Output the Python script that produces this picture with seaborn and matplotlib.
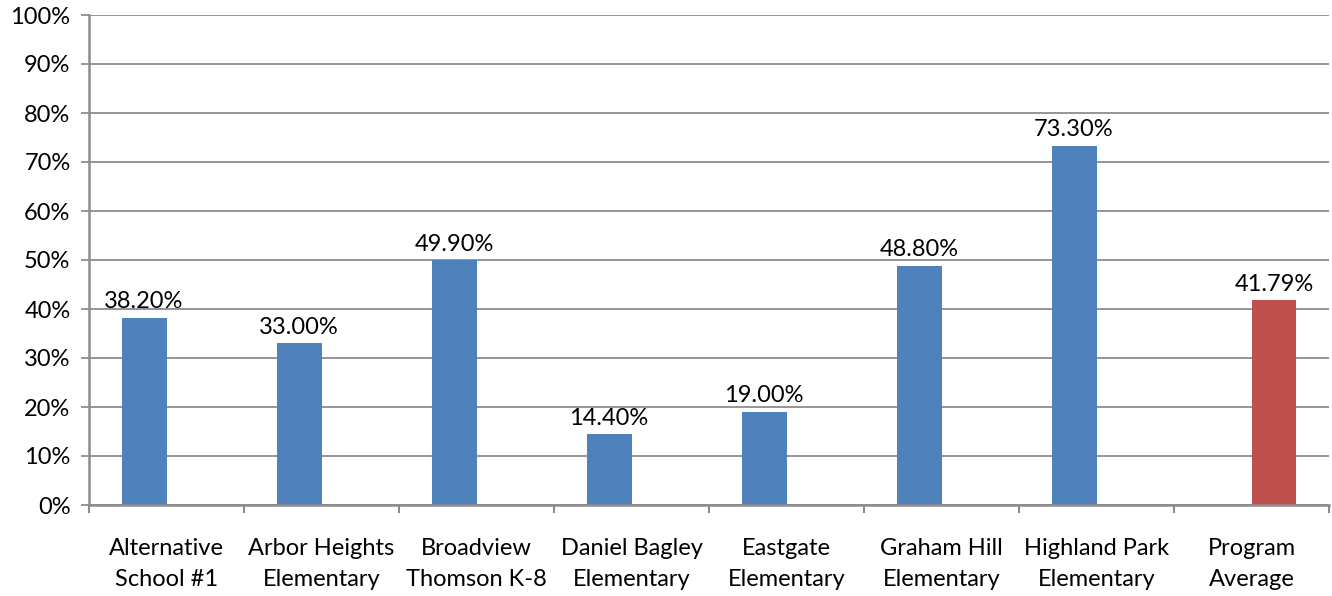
import matplotlib
matplotlib.use("Agg")
import matplotlib.pyplot as plt
import seaborn as sns
import pandas as pd
import numpy as np
from matplotlib.ticker import FixedLocator, PercentFormatter

categories = ["Alternative\nSchool #1", "Arbor Heights\nElementary", "Broadview\nThomson K-8",
              "Daniel Bagley\nElementary", "Eastgate\nElementary", "Graham Hill\nElementary",
              "Highland Park\nElementary", "Program\nAverage"]
values = [38.20, 33.00, 49.90, 14.40, 19.00, 48.80, 73.30, 41.79]
groups = ["school"] * 7 + ["average"]
palette = {"school": "#4F81BD", "average": "#C0504D"}

sns.set_theme(style="white")
plt.rcParams['font.family'] = ['Lato', 'DejaVu Sans']

df = pd.DataFrame({"cat": categories, "val": values, "grp": groups})

fig = plt.figure(figsize=(13.32, 5.96), dpi=100)
ax = fig.add_axes([89/1332, 1-505/596, (1329-89)/1332, (505-15)/596])
sns.barplot(data=df, x="cat", y="val", hue="grp", hue_order=["school", "average"],
            palette=palette, dodge=True, width=0.58, gap=0, legend=False, ax=ax,
            saturation=1, linewidth=0)

for c in ax.containers:
    labels = [f"{v:.2f}%" if not np.isnan(v) else "" for v in c.datavalues]
    ax.bar_label(c, labels=labels, padding=4, fontsize=17, color="black")

ax.set_ylim(0, 100)
ax.set_xlim(-0.5, len(categories) - 0.5)
ax.set_yticks(np.arange(0, 101, 10))
ax.yaxis.set_major_formatter(PercentFormatter(decimals=0))
ax.grid(axis="y", color="#8c8c8c", linewidth=1.3)
ax.set_axisbelow(True)
ax.set_xlabel("")
ax.set_ylabel("")

ax.xaxis.set_minor_locator(FixedLocator(np.arange(-0.5, len(categories), 1.0)))
ax.tick_params(axis="x", which="major", length=0, pad=24, labelsize=17, colors="black")
ax.tick_params(axis="x", which="minor", length=5.8, width=1.5, color="#8c8c8c", direction="out")
ax.tick_params(axis="y", which="major", length=5.8, width=1.3, color="#8c8c8c", direction="out",
               labelsize=17, labelcolor="black", pad=7.5)
ax.tick_params(axis="y", left=True)
ax.tick_params(axis="x", which="minor", bottom=True)
for lbl in ax.get_xticklabels():
    lbl.set_linespacing(1.55)

for s in ["top", "right"]:
    ax.spines[s].set_visible(False)
for s in ["left", "bottom"]:
    ax.spines[s].set_color("#8c8c8c")
    ax.spines[s].set_linewidth(1.8)

fig.savefig("out.png", dpi=100)
